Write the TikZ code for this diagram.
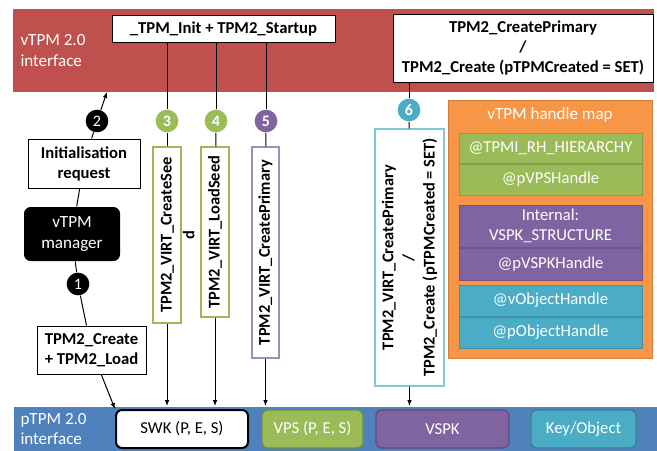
\documentclass[tikz,border=0pt]{standalone}
\usepackage{fontspec}
\setmainfont{Carlito}
\usepackage{tikz}
\usetikzlibrary{arrows.meta}
\definecolor{vred}{RGB}{192,80,77}
\definecolor{pblue}{RGB}{79,129,189}
\definecolor{hmorange}{RGB}{247,150,70}
\definecolor{okgreen}{RGB}{155,187,89}
\definecolor{vpurple}{RGB}{128,100,162}
\definecolor{vteal}{RGB}{75,172,198}
\tikzset{every picture/.style={line width=0.75pt}}

\begin{document}
\begin{tikzpicture}[x=0.75pt,y=0.75pt,yscale=-1,xscale=1,
	bandlbl/.style={font=\fontsize{12.8}{15.75}\selectfont, text=white, align=left, inner sep=0},
	cmdbox/.style={draw, fill=white, font=\bfseries\fontsize{12.5}{15}\selectfont, align=center, inner sep=0},
	vbox/.style={draw=#1, line width=0.9pt, fill=white, rotate=90, font=\bfseries\fontsize{12.3}{15.5}\selectfont, inner sep=0},
	stepnum/.style={circle, fill=#1, text=white, font=\bfseries\fontsize{12}{12}\selectfont, minimum size=17pt, inner sep=0},
	mapcell/.style={fill=#1, draw=#1!85!black, text=white, font=\fontsize{12.5}{15}\selectfont, align=center, minimum width=137.25pt, inner sep=0},
	keybox/.style={rounded corners=4.5pt, fill=#1, draw=#1!75!black, line width=1pt, text=white, font=\fontsize{12.5}{15}\selectfont, minimum height=28.5pt, inner sep=0},
	flow/.style={-{Latex[length=4.5pt,width=3.5pt]}}
	]
	\useasboundingbox (0,0) rectangle (657,450);
	
	% interfaces
	\node [fill=vred, minimum width=480.75pt, minimum height=62.25pt, anchor=north west, inner sep=0] (vtpm) at (12,8) {};
	\node [bandlbl, anchor=west] (vtpmlbl) at (20,50.5) {vTPM 2.0\\interface};
	\node [fill=pblue, minimum width=483pt, minimum height=35pt, anchor=north west, inner sep=0] (ptpm) at (13,406) {};
	\node [bandlbl, font=\fontsize{12.8}{14.5}\selectfont, anchor=west] (ptpmlbl) at (20,429) {pTPM 2.0\\interface};
	
	% commands on the vTPM side
	\node [cmdbox, minimum width=167.25pt, minimum height=20.25pt] (init) at (223.5,28.5) {\_TPM\_Init + TPM2\_Startup};
	\node [cmdbox, minimum width=195pt, minimum height=51pt] (cp) at (523,48) {TPM2\_CreatePrimary\\/\\TPM2\_Create (pTPMCreated = SET)};
	
	% manager side
	\node [cmdbox, minimum width=84pt, minimum height=36.75pt] (initreq) at (84,163.5) {Initialisation\\request};
	\node [fill=black, rounded corners=5pt, text=white, font=\fontsize{12.8}{15.5}\selectfont, align=center, minimum width=72pt, minimum height=40.5pt, inner sep=0] (mgr) at (72,234) {vTPM\\manager};
	\node [cmdbox, minimum width=81.75pt, minimum height=36pt] (tcreate) at (91.5,350) {TPM2\_Create\\+ TPM2\_Load};
	\node [stepnum=black, font=\fontsize{12}{12}\selectfont] (s1) at (78,284) {1};
	\node [stepnum=black, font=\fontsize{12}{12}\selectfont] (s2) at (97,121) {2};
	\coordinate (v2end) at (107,92);
	
	% steps
	\node [stepnum=okgreen] (s3) at (167,121) {3};
	\node [stepnum=okgreen] (s4) at (216,121) {4};
	\node [stepnum=vpurple] (s5) at (266,121) {5};
	\node [stepnum=vteal] (s6) at (409,110) {6};
	
	\node [vbox=okgreen, minimum width=132pt, minimum height=21pt, text height=9pt, text depth=2pt] (v3) at (167,235) {\begin{tabular}[t]{@{}c@{}}TPM2\_VIRT\_CreateSee\\[1.5pt]d\end{tabular}};
	\node [vbox=okgreen, minimum width=127.5pt, minimum height=21pt] (v4) at (215,232) {TPM2\_VIRT\_LoadSeed};
	\node [vbox=vpurple!75!white, minimum width=158.25pt, minimum height=20.25pt] (v5) at (265.5,252.5) {TPM2\_VIRT\_CreatePrimary};
	\node [vbox=vteal!70!white, align=center, minimum width=192.75pt, minimum height=51.75pt] (v6) at (409.5,257.5) {TPM2\_VIRT\_CreatePrimary\\/\\TPM2\_Create (pTPMCreated = SET)};
	
	% handle map
	\node [fill=hmorange, draw=hmorange!85!black, minimum width=153pt, minimum height=193.5pt, inner sep=0] (hmap) at (550,229) {};
	\node [bandlbl, align=center] (hmaptitle) at (550,115) {vTPM handle map};
	\node [mapcell=okgreen, minimum height=22.5pt] (g1) at (550.5,148) {@TPMI\_RH\_HIERARCHY};
	\node [mapcell=okgreen, minimum height=23.25pt, anchor=north] (g2) at (g1.south) {@pVPSHandle};
	\node [mapcell=vpurple, minimum height=31.5pt] (p1) at (550.5,226) {Internal:\\VSPK\_STRUCTURE};
	\node [mapcell=vpurple, minimum height=24pt, anchor=north] (p2) at (p1.south) {@pVSPKHandle};
	\node [mapcell=vteal, minimum height=23.25pt] (t1) at (550.5,300.5) {@vObjectHandle};
	\node [mapcell=vteal, minimum height=23.25pt, anchor=north] (t2) at (t1.south) {@pObjectHandle};
	
	% physical objects
	\node [keybox=white, draw=black, text=black, line width=1.5pt, minimum width=99pt] (swk) at (182,429) {SWK (P, E, S)};
	\node [keybox=okgreen, minimum width=75.75pt] (vps) at (312.5,429) {VPS (P, E, S)};
	\node [keybox=vpurple, minimum width=99.75pt] (vspk) at (442.5,429) {VSPK};
	\node [keybox=vteal, minimum width=78.75pt] (keyobj) at (583.5,429) {Key/Object};
	
	% connectors
	\draw (mgr) -- (initreq);
	\draw (initreq) -- (s2);
	\draw [flow] (s2) -- (v2end);
	\draw (mgr) -- (s1);
	\draw (s1) -- (tcreate);
	\draw [flow] (tcreate) -- (swk.north west);
	
	\draw (init.south -| s3) -- (s3);
	\draw (init.south -| s4) -- (s4);
	\draw (init.south -| s5) -- (s5);
	\draw (cp.south -| s6) -- (s6);
	\draw (s3) -- (v3);
	\draw (s4) -- (v4);
	\draw (s5) -- (v5);
	\draw (s6) -- (v6);
	\draw [flow] (v3) -- (v3 |- ptpm.north);
	\draw [flow] (v4) -- (v4 |- ptpm.north);
	\draw [flow] (v5) -- (v5 |- ptpm.north);
	\draw [flow] (v6) -- (v6 |- ptpm.north);
\end{tikzpicture}
\end{document}
